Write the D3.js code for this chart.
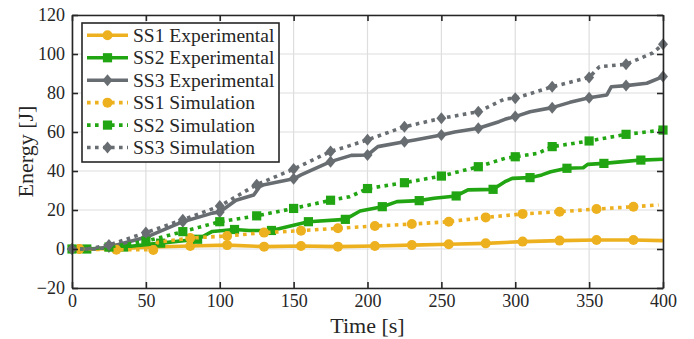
<!DOCTYPE html>
<html>
<head>
<meta charset="utf-8">
<script src="https://cdnjs.cloudflare.com/ajax/libs/d3/7.8.5/d3.min.js"></script>
<style>
    body { margin: 0; background: #fff; }
    svg, svg text { font-family: "Times New Roman", "Liberation Serif", "DejaVu Serif", serif; }
</style>
</head>
<body>
<div class="card"></div>
<script>
// axis ticks
var xTicks = [0, 50, 100, 150, 200, 250, 300, 350, 400];
var yTicks = [-20, 0, 20, 40, 60, 80, 100, 120];

// SS1 experimental
var ss1ExpTime = [0, 5, 30, 55, 80, 105, 130, 155, 180, 205, 230, 255, 280, 305, 330, 355, 380, 400];
var ss1ExpEnergy = [0, 0, 0.2, 1, 1.5, 2, 1.2, 1.5, 1.2, 1.5, 2, 2.4, 2.9, 3.8, 4.3, 4.6, 4.6, 4.3];
var ss1ExpMarkers = [5, 30, 55, 80, 105, 130, 155, 180, 205, 230, 255, 280, 305, 330, 355, 380];

// SS2 experimental
var ss2ExpTime = [0, 10, 35, 60, 85, 95, 110, 120, 135, 160, 185, 195, 210, 220, 235, 245, 260, 268, 285, 293, 298, 310, 318, 324, 335, 346, 349, 360, 373, 385, 400];
var ss2ExpEnergy = [0, 0, 1, 3, 5, 9, 10, 9.5, 9.5, 14, 15.2, 19.5, 21.7, 24.3, 24.8, 26, 27.2, 30.3, 30.6, 34.5, 36.2, 36.6, 38, 39.6, 41.4, 41.7, 43.4, 43.9, 44.8, 45.6, 46];
var ss2ExpMarkers = [10, 35, 60, 85, 110, 135, 160, 185, 210, 235, 260, 285, 310, 335, 360, 385];

// SS3 experimental
var ss3ExpTime = [0, 15, 25, 50, 75, 87, 95, 100, 111, 123, 127, 130, 150, 155, 175, 189, 200, 207, 225, 232, 250, 259, 275, 289, 293, 300, 310, 325, 337, 350, 362, 365, 375, 389, 400];
var ss3ExpEnergy = [0, 0, 1, 6, 14, 16.6, 18.4, 19, 25, 27.7, 32, 33, 36, 38, 44.8, 48, 48.2, 52.5, 55, 55.9, 58.5, 60, 61.9, 65.3, 66.5, 67.9, 70.4, 72.5, 75.2, 77.6, 79, 83.2, 83.8, 85, 88.4];
var ss3ExpMarkers = [0, 25, 50, 75, 100, 125, 150, 175, 200, 225, 250, 275, 300, 325, 350, 375, 400];

// SS1 simulation
var ss1SimTime = [0, 5, 30, 52, 55, 58, 80, 105, 130, 155, 180, 205, 230, 255, 280, 305, 330, 355, 380, 397];
var ss1SimEnergy = [0, 0, -0.4, -0.3, -0.5, 3.5, 5.6, 6.7, 8.4, 9.4, 10.6, 11.8, 12.8, 14, 16.2, 18, 19.1, 20.5, 21.7, 22.6];
var ss1SimMarkers = [5, 30, 55, 80, 105, 130, 155, 180, 205, 230, 255, 280, 305, 330, 355, 380];

// SS2 simulation
var ss2SimTime = [0, 10, 25, 50, 75, 100, 125, 150, 175, 188, 200, 225, 250, 275, 293, 300, 315, 325, 350, 375, 400];
var ss2SimEnergy = [0, 0, 1, 4, 8.9, 14, 17, 20.8, 25, 26.8, 31, 34, 37.4, 42.2, 46.5, 47.3, 49, 52.5, 55.4, 58.8, 61];
var ss2SimMarkers = [0, 25, 50, 75, 100, 125, 150, 175, 200, 225, 250, 275, 300, 325, 350, 375, 400];

// SS3 simulation
var ss3SimTime = [0, 10, 25, 50, 75, 100, 125, 150, 175, 188, 200, 225, 250, 275, 293, 300, 325, 350, 357, 375, 393, 400];
var ss3SimEnergy = [0, 0, 2, 8.4, 15, 22, 33, 41, 50, 53, 56, 62.7, 67, 70.4, 77, 77.3, 83.2, 88, 93.5, 94.7, 100.5, 105];
var ss3SimMarkers = [0, 25, 50, 75, 100, 125, 150, 175, 200, 225, 250, 275, 300, 325, 350, 375, 400];

var seriesNames = ["SS1 Experimental", "SS2 Experimental", "SS3 Experimental", "SS1 Simulation", "SS2 Simulation", "SS3 Simulation"];

var yellow = "#edb120", green = "#22a512", gray = "#686d72";
var serifFont = '"Times New Roman", "Liberation Serif", "DejaVu Serif", serif';

var series = [
    { name: seriesNames[0], time: ss1ExpTime, energy: ss1ExpEnergy, markers: ss1ExpMarkers, color: yellow, shape: "circle", dotted: false },
    { name: seriesNames[1], time: ss2ExpTime, energy: ss2ExpEnergy, markers: ss2ExpMarkers, color: green, shape: "square", dotted: false },
    { name: seriesNames[2], time: ss3ExpTime, energy: ss3ExpEnergy, markers: ss3ExpMarkers, color: gray, shape: "diamond", dotted: false },
    { name: seriesNames[3], time: ss1SimTime, energy: ss1SimEnergy, markers: ss1SimMarkers, color: yellow, shape: "circle", dotted: true },
    { name: seriesNames[4], time: ss2SimTime, energy: ss2SimEnergy, markers: ss2SimMarkers, color: green, shape: "square", dotted: true },
    { name: seriesNames[5], time: ss3SimTime, energy: ss3SimEnergy, markers: ss3SimMarkers, color: gray, shape: "diamond", dotted: true }
];

var svgWidth = 694, svgHeight = 339;
var margin = { top: 15, right: 31, bottom: 51, left: 72 };
var width = svgWidth - margin.left - margin.right;
var height = svgHeight - margin.top - margin.bottom;
var axisColor = "#262626";
var tickLen = 6;

var x = d3.scaleLinear().domain([0, 400]).range([0, width]);
var y = d3.scaleLinear().domain([-20, 120]).range([height, 0]);

function markerPath(shape) {
    if (shape === "circle") return d3.symbol(d3.symbolCircle, Math.PI * 5 * 5)();
    if (shape === "square") return "M-4.6,-4.6H4.6V4.6H-4.6Z";
    return "M0,-6L5,0L0,6L-5,0Z";
}

var svg = d3.select(".card").append("svg")
    .attr("width", svgWidth)
    .attr("height", svgHeight);

var g = svg.append("g")
    .attr("transform", `translate(${margin.left}, ${margin.top})`);

// grid
g.append("g").selectAll("line").data(xTicks).enter().append("line")
    .attr("x1", (d) => x(d)).attr("x2", (d) => x(d))
    .attr("y1", 0).attr("y2", height)
    .attr("stroke", "#dedede").attr("stroke-width", 1.2);
g.append("g").selectAll("line").data(yTicks).enter().append("line")
    .attr("x1", 0).attr("x2", width)
    .attr("y1", (d) => y(d)).attr("y2", (d) => y(d))
    .attr("stroke", "#dedede").attr("stroke-width", 1.2);

// lines + markers
var line = d3.line()
    .x((d) => x(d.t))
    .y((d) => y(d.e));

series.forEach(function (s) {
    var pts = s.time.map((t, i) => ({ t: t, e: s.energy[i] }));
    g.append("path")
        .datum(pts)
        .attr("d", line)
        .attr("fill", "none")
        .attr("stroke", s.color)
        .attr("stroke-width", 3.6)
        .attr("stroke-linejoin", "round")
        .attr("stroke-dasharray", s.dotted ? "3.6,4.4" : null);

    var mk = pts.filter((p) => s.markers.indexOf(p.t) >= 0);
    g.append("g").selectAll("path").data(mk).enter().append("path")
        .attr("d", markerPath(s.shape))
        .attr("transform", (d) => `translate(${x(d.t)}, ${y(d.e)})`)
        .attr("fill", s.color);
});

// axes box with inward ticks
var xAxisBottom = d3.axisBottom(x).tickValues(xTicks).tickSizeInner(-tickLen).tickSizeOuter(0).tickPadding(6);
var xAxisTop = d3.axisTop(x).tickValues(xTicks).tickSizeInner(-tickLen).tickSizeOuter(0).tickFormat("");
var yAxisLeft = d3.axisLeft(y).tickValues(yTicks).tickSizeInner(-tickLen).tickSizeOuter(0).tickPadding(7);
var yAxisRight = d3.axisRight(y).tickValues(yTicks).tickSizeInner(-tickLen).tickSizeOuter(0).tickFormat("");

var axes = [
    g.append("g").attr("transform", `translate(0, ${height})`).call(xAxisBottom),
    g.append("g").call(xAxisTop),
    g.append("g").call(yAxisLeft),
    g.append("g").attr("transform", `translate(${width}, 0)`).call(yAxisRight)
];
axes.forEach(function (a) {
    a.attr("font-family", serifFont).attr("font-size", 18);
    a.select(".domain").attr("stroke", axisColor).attr("stroke-width", 1.6);
    a.selectAll(".tick line").attr("stroke", axisColor).attr("stroke-width", 1.6);
    a.selectAll("text").attr("fill", "#262626");
});

// axis labels
svg.append("text")
    .attr("x", margin.left + width / 2)
    .attr("y", 333)
    .attr("text-anchor", "middle")
    .attr("fill", "#262626")
    .attr("font-family", serifFont)
    .attr("font-size", 22)
    .text("Time [s]");

svg.append("text")
    .attr("transform", `translate(33, ${margin.top + height / 2}) rotate(-90)`)
    .attr("text-anchor", "middle")
    .attr("fill", "#262626")
    .attr("font-family", serifFont)
    .attr("font-size", 22)
    .text("Energy [J]");

// legend
var legend = svg.append("g").attr("transform", "translate(82, 23)");
legend.append("rect")
    .attr("width", 197).attr("height", 139)
    .attr("fill", "#fff")
    .attr("stroke", axisColor).attr("stroke-width", 1.6);

series.forEach(function (s, i) {
    var ry = 12.3 + i * 22.45;
    legend.append("line")
        .attr("x1", 5).attr("x2", 46)
        .attr("y1", ry).attr("y2", ry)
        .attr("stroke", s.color).attr("stroke-width", 3.6)
        .attr("stroke-dasharray", s.dotted ? "3.6,4.4" : null);
    legend.append("path")
        .attr("d", markerPath(s.shape))
        .attr("transform", `translate(25.5, ${ry})`)
        .attr("fill", s.color);
    legend.append("text")
        .attr("x", 51).attr("y", ry)
        .attr("dy", "0.34em")
        .attr("fill", "#262626")
        .attr("font-family", serifFont)
        .attr("font-size", 19.5)
        .text(s.name);
});
</script>
</body>
</html>
